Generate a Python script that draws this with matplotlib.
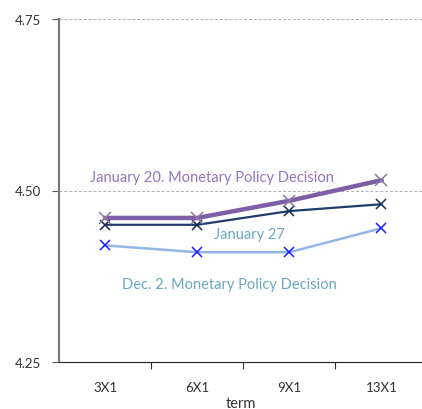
import matplotlib.pyplot as plt

plt.rcParams['font.family'] = ['Lato', 'DejaVu Sans']

# term structure values
terms = ['3X1', '6X1', '9X1', '13X1']
dec2 = [4.42, 4.41, 4.41, 4.445]
jan20 = [4.46, 4.46, 4.485, 4.515]
jan27 = [4.45, 4.45, 4.47, 4.48]
yticks = [4.25, 4.50, 4.75]

fig = plt.figure(figsize=(4.22, 4.10), dpi=100)
ax = fig.add_axes([59 / 422, 47 / 410, 1 - 59 / 422, 343 / 410])

x = list(range(len(terms)))
ax.plot(x, dec2, color='#92b6e6', lw=1.8, marker='x', ms=7, mew=1.1,
        mec='#1a1aff', zorder=3)
ax.plot(x, jan27, color='#1f3d6b', lw=1.6, marker='x', ms=7, mew=1.1,
        mec='#142a55', zorder=4)
ax.plot(x, jan20, color='#7d5fa8', lw=3.2, marker='x', ms=8, mew=1.1,
        mec='#8a7a9c', zorder=5)

ax.text(1.165, 4.520, 'January 20. Monetary Policy Decision', color='#9276bf',
        fontsize=10.5, ha='center', va='center')
ax.text(1.57, 4.437, 'January 27', color='#6aa8bf', fontsize=10.5,
        ha='center', va='center')
ax.text(1.35, 4.364, 'Dec. 2. Monetary Policy Decision', color='#6aa8bf',
        fontsize=10.5, ha='center', va='center')

ax.set_ylim(4.25, 4.75)
ax.set_xlim(-0.5, 3.44)
ax.set_yticks(yticks)
ax.set_yticklabels(['%.2f' % v for v in yticks], fontsize=9.5, color='#333333')
for v in yticks[1:]:
    ax.axhline(v, color='#b0b0b0', lw=0.7, ls=(0, (3, 2)), zorder=1)

ax.set_xticks([0.5, 1.5, 2.5])
ax.set_xticklabels([])
ax.set_xticks(x, minor=True)
ax.set_xticklabels(terms, minor=True, fontsize=9.5, color='#333333')
ax.tick_params(axis='x', which='minor', length=0, pad=14)
ax.tick_params(axis='x', which='major', length=5, color='#333333')
ax.tick_params(axis='y', length=5, color='#555555', pad=8)
ax.set_xlabel('term', fontsize=10.5, color='#333333', labelpad=2)

for s in ['top', 'right']:
    ax.spines[s].set_visible(False)
ax.spines['left'].set_color('#777777')
ax.spines['left'].set_linewidth(1.5)
ax.spines['bottom'].set_color('#222222')

fig.savefig('out.png', dpi=100)
